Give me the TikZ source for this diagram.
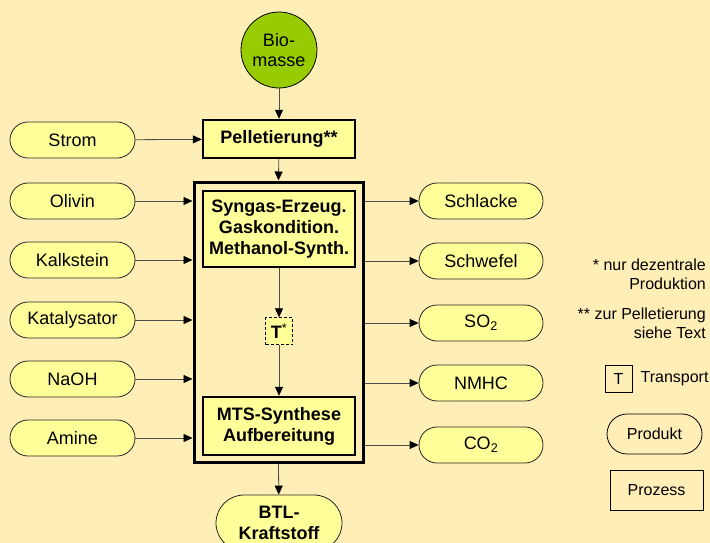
\documentclass[tikz,border=0pt]{standalone}
\usepackage{fontspec}
\setmainfont{Liberation Sans}
\usetikzlibrary{arrows.meta,positioning}
\definecolor{paper}{RGB}{255,239,183}
\definecolor{boxfill}{RGB}{255,255,153}
\definecolor{biogreen}{RGB}{153,204,0}
\tikzset{
    product-box/.style = {draw=black!85, fill=boxfill, line width=0.8pt, rectangle, rounded corners=18pt, minimum width=125pt, minimum height=36pt, inner sep=0pt, align=center, font=\fontsize{18}{21}\selectfont},
    process-box/.style = {draw, fill=boxfill, line width=2.4pt, rectangle, minimum width=152pt, inner sep=0pt, align=center, font=\fontsize{18}{21}\selectfont\bfseries},
    flow/.style = {draw=black!70, line width=0.8pt, -{Triangle[length=9pt, width=8pt, color=black]}},
    legend-text/.style = {inner sep=0pt, align=right, font=\fontsize{16}{19}\selectfont},
}

\begin{document}
\begin{tikzpicture}[x=1pt, y=-1pt]
\fill[paper] (0,0) rectangle (710,543);
\useasboundingbox (0,0) rectangle (710,543);

% main chain
\node[draw, fill=biogreen, circle, line width=0.8pt, minimum size=76pt, inner sep=0pt, align=center, font=\fontsize{18}{20}\selectfont] (biomass) at (279,50) {Bio-\\masse};
\node[process-box, minimum height=38pt] (pellet) at (279,139) {Pelletierung**};
\node[draw, line width=3pt, rectangle, minimum width=169pt, minimum height=280pt] (plant) at (278.5,322) {};
\node[process-box, minimum height=76pt] (syngas) at (279,229) {Syngas-Erzeug.\\Gaskondition.\\Methanol-Synth.};
\node[draw, fill=boxfill, thin, dash pattern=on 3pt off 2pt, minimum size=27pt, inner sep=0pt, font=\fontsize{18}{21}\selectfont\bfseries] (transport) at (279,331) {T\textsuperscript{\mdseries *}};
\node[process-box, minimum height=58pt] (mts) at (279,426) {MTS-Synthese\\Aufbereitung};
\node[product-box, minimum width=126pt, minimum height=56pt, rounded corners=28pt, font=\fontsize{18}{21}\selectfont\bfseries] (btl) at (279,523) {BTL-\\Kraftstoff};

\draw[flow] (biomass) -- (pellet);
\draw[flow] (pellet) -- (plant.north);
\draw[flow] (syngas) -- (transport);
\draw[flow] (transport) -- (mts);
\draw[flow] (plant.south) -- (btl);

% inputs
\node[product-box] (strom) at (72.5,140) {Strom};
\node[product-box] (olivin) at (72.5,201) {Olivin};
\node[product-box] (kalk) at (72.5,260) {Kalkstein};
\node[product-box] (kat) at (72.5,320) {Katalysator};
\node[product-box] (naoh) at (72.5,379) {NaOH};
\node[product-box] (amine) at (72.5,438) {Amine};

\draw[flow] (strom) -- (pellet);
\draw[flow] (olivin) -- (olivin -| plant.west);
\draw[flow] (kalk) -- (kalk -| plant.west);
\draw[flow] (kat) -- (kat -| plant.west);
\draw[flow] (naoh) -- (naoh -| plant.west);
\draw[flow] (amine) -- (amine -| plant.west);

% outputs
\node[product-box, minimum width=124pt] (slag) at (481,201) {Schlacke};
\node[product-box, minimum width=124pt] (sulfur) at (481,261) {Schwefel};
\node[product-box, minimum width=124pt] (so2) at (481,323) {SO\textsubscript{2}};
\node[product-box, minimum width=124pt] (nmhc) at (481,383) {NMHC};
\node[product-box, minimum width=124pt] (co2) at (481,445) {CO\textsubscript{2}};

\draw[flow] (slag -| plant.east) -- (slag);
\draw[flow] (sulfur -| plant.east) -- (sulfur);
\draw[flow] (so2 -| plant.east) -- (so2);
\draw[flow] (nmhc -| plant.east) -- (nmhc);
\draw[flow] (co2 -| plant.east) -- (co2);

% legend
\node[legend-text, anchor=east] (note-dec) at (706,274) {* nur dezentrale\\Produktion};
\node[legend-text, anchor=east] (note-pel) at (706,323) {** zur Pelletierung\\siehe Text};
\node[draw, line width=0.8pt, minimum size=27pt, inner sep=0pt, font=\fontsize{16}{19}\selectfont] (leg-t) at (618.5,378.5) {T};
\node[legend-text, right=8pt of leg-t] (leg-t-text) {Transport};
\node[draw, line width=0.8pt, rounded corners=20pt, minimum width=95pt, minimum height=40pt, inner sep=0pt, font=\fontsize{16}{19}\selectfont] (leg-prod) at (654.5,434) {Produkt};
\node[draw, line width=0.8pt, minimum width=93pt, minimum height=40pt, inner sep=0pt, font=\fontsize{16}{19}\selectfont] (leg-proc) at (656.5,490) {Prozess};
\end{tikzpicture}
\end{document}
